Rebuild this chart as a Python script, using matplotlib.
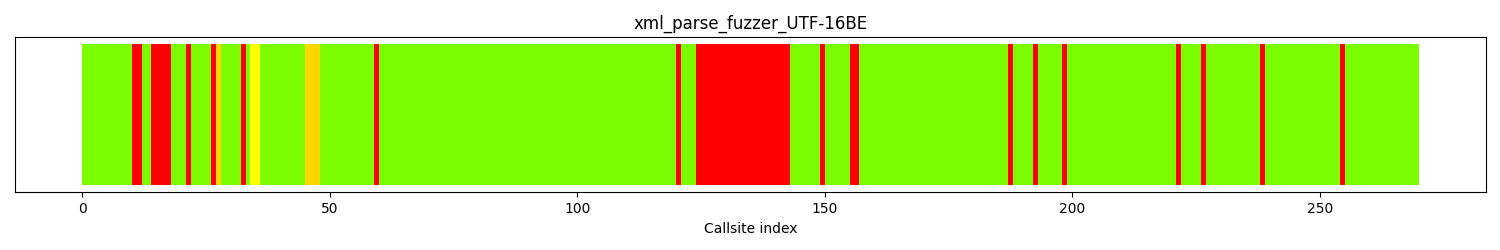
import matplotlib
matplotlib.use("Agg")
import matplotlib.pyplot as plt

title = "xml_parse_fuzzer_UTF-16BE"
xlabel = "Callsite index"

# Run-length encoded callsite colours: (colour, number of callsites)
run_colors = ["lawngreen", "red", "lawngreen", "red", "lawngreen", "red", "lawngreen",
              "red", "gold", "lawngreen", "red", "lawngreen", "yellow", "lawngreen",
              "gold", "lawngreen", "red", "lawngreen", "red", "lawngreen", "red",
              "lawngreen", "red", "lawngreen", "red", "lawngreen", "red", "lawngreen",
              "red", "lawngreen", "red", "lawngreen", "red", "lawngreen", "red",
              "lawngreen", "red", "lawngreen", "red", "lawngreen"]
run_lengths = [10, 2, 2, 4, 3, 1, 4,
               1, 1, 4, 1, 1, 2, 9,
               3, 11, 1, 60, 1, 3, 19,
               6, 1, 5, 2, 30, 1, 4,
               1, 5, 1, 22, 1, 4, 1,
               11, 1, 15, 1, 15]

colors = []
for c, n in zip(run_colors, run_lengths):
    colors.extend([c] * n)
indices = list(range(len(colors)))
heights = [1] * len(colors)

fig = plt.figure(figsize=(15, 2.5), dpi=100)
ax = fig.add_axes([0.0102, 0.2308, 0.9803, 0.6212])
ax.bar(indices, heights, width=1, align="edge", color=colors)
ax.set_ylim(-0.05, 1.05)
ax.set_yticks([])
ax.set_title(title)
ax.set_xlabel(xlabel)
fig.savefig("out.png", dpi=100)
